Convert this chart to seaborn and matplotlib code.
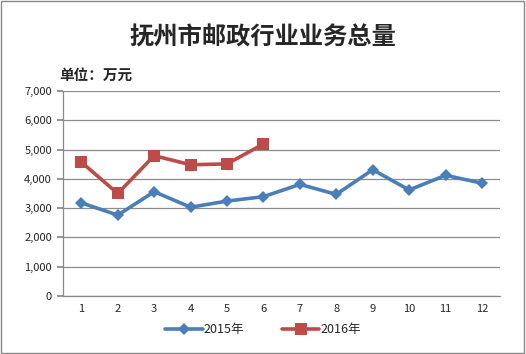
import numpy as np
import pandas as pd
import matplotlib.pyplot as plt
from matplotlib.ticker import FuncFormatter, MultipleLocator
import seaborn as sns

# data
months = list(range(1, 13))
values_2015 = [3180, 2760, 3560, 3030, 3240, 3390, 3810, 3470, 4310, 3620, 4120, 3850]
months_2016 = [1, 2, 3, 4, 5, 6]
values_2016 = [4570, 3500, 4790, 4480, 4510, 5190]
series_names = ["2015年", "2016年"]

df = pd.concat([
    pd.DataFrame({"month": months, "value": values_2015, "year": series_names[0]}),
    pd.DataFrame({"month": months_2016, "value": values_2016, "year": series_names[1]}),
])

sns.set_theme(style="white")
plt.rcParams['font.family'] = ['Noto Sans CJK SC', 'DejaVu Sans']

fig = plt.figure(figsize=(5.26, 3.54), dpi=100)
ax = fig.add_axes([0.120, 0.164, 0.831, 0.579])

palette = {"2015年": "#4A7EBB", "2016年": "#BE4B48"}
markers = {"2015年": "D", "2016年": "s"}
sns.lineplot(data=df, x="month", y="value", hue="year", style="year",
             palette=palette, markers=markers, dashes=False,
             linewidth=2.6, markersize=7, markeredgewidth=0, ax=ax)
for line in ax.lines:
    if line.get_marker() == "s":
        line.set_markersize(8)
    else:
        line.set_markersize(6.5)

ax.set_xlim(0.5, 12.5)
ax.set_ylim(0, 7000)
ax.yaxis.set_major_locator(MultipleLocator(1000))
ax.yaxis.set_major_formatter(FuncFormatter(lambda v, p: f"{int(v):,}"))
ax.set_xticks(months)
ax.set_xticks(np.arange(0.5, 13, 1), minor=True)
ax.tick_params(axis="x", which="major", length=0, labelsize=8, pad=6)
ax.tick_params(axis="x", which="minor", length=4, color="#888888", direction="out")
ax.tick_params(axis="y", which="major", length=4, color="#888888", direction="out",
               labelsize=8, pad=4, left=True)
ax.grid(axis="y", color="#8c8c8c", linewidth=0.9)
ax.set_axisbelow(True)
for s in ["top", "right"]:
    ax.spines[s].set_visible(False)
for s in ["left", "bottom"]:
    ax.spines[s].set_color("#888888")
    ax.spines[s].set_linewidth(0.9)
ax.set_xlabel("")
ax.set_ylabel("")

handles, labels = ax.get_legend_handles_labels()
ax.legend(handles, labels, loc="center", bbox_to_anchor=(0.5, 1 - 330 / 354),
          bbox_transform=fig.transFigure, ncol=2, frameon=False, fontsize=9,
          handlelength=3, handletextpad=0.1, columnspacing=3)

fig.text(0.5, 1 - 37 / 354, "抚州市邮政行业业务总量", ha="center", va="center",
         fontsize=17.5, fontweight="bold")
fig.text(0.113, 1 - 75 / 354, "单位：万元", ha="left", va="center",
         fontsize=10.5, fontweight="bold")

# outer border
fig.patches.append(plt.Rectangle((0.002, 0.003), 0.995, 0.994, transform=fig.transFigure,
                                 fill=False, edgecolor="#888888", linewidth=1))

fig.savefig("out.png", dpi=100)
